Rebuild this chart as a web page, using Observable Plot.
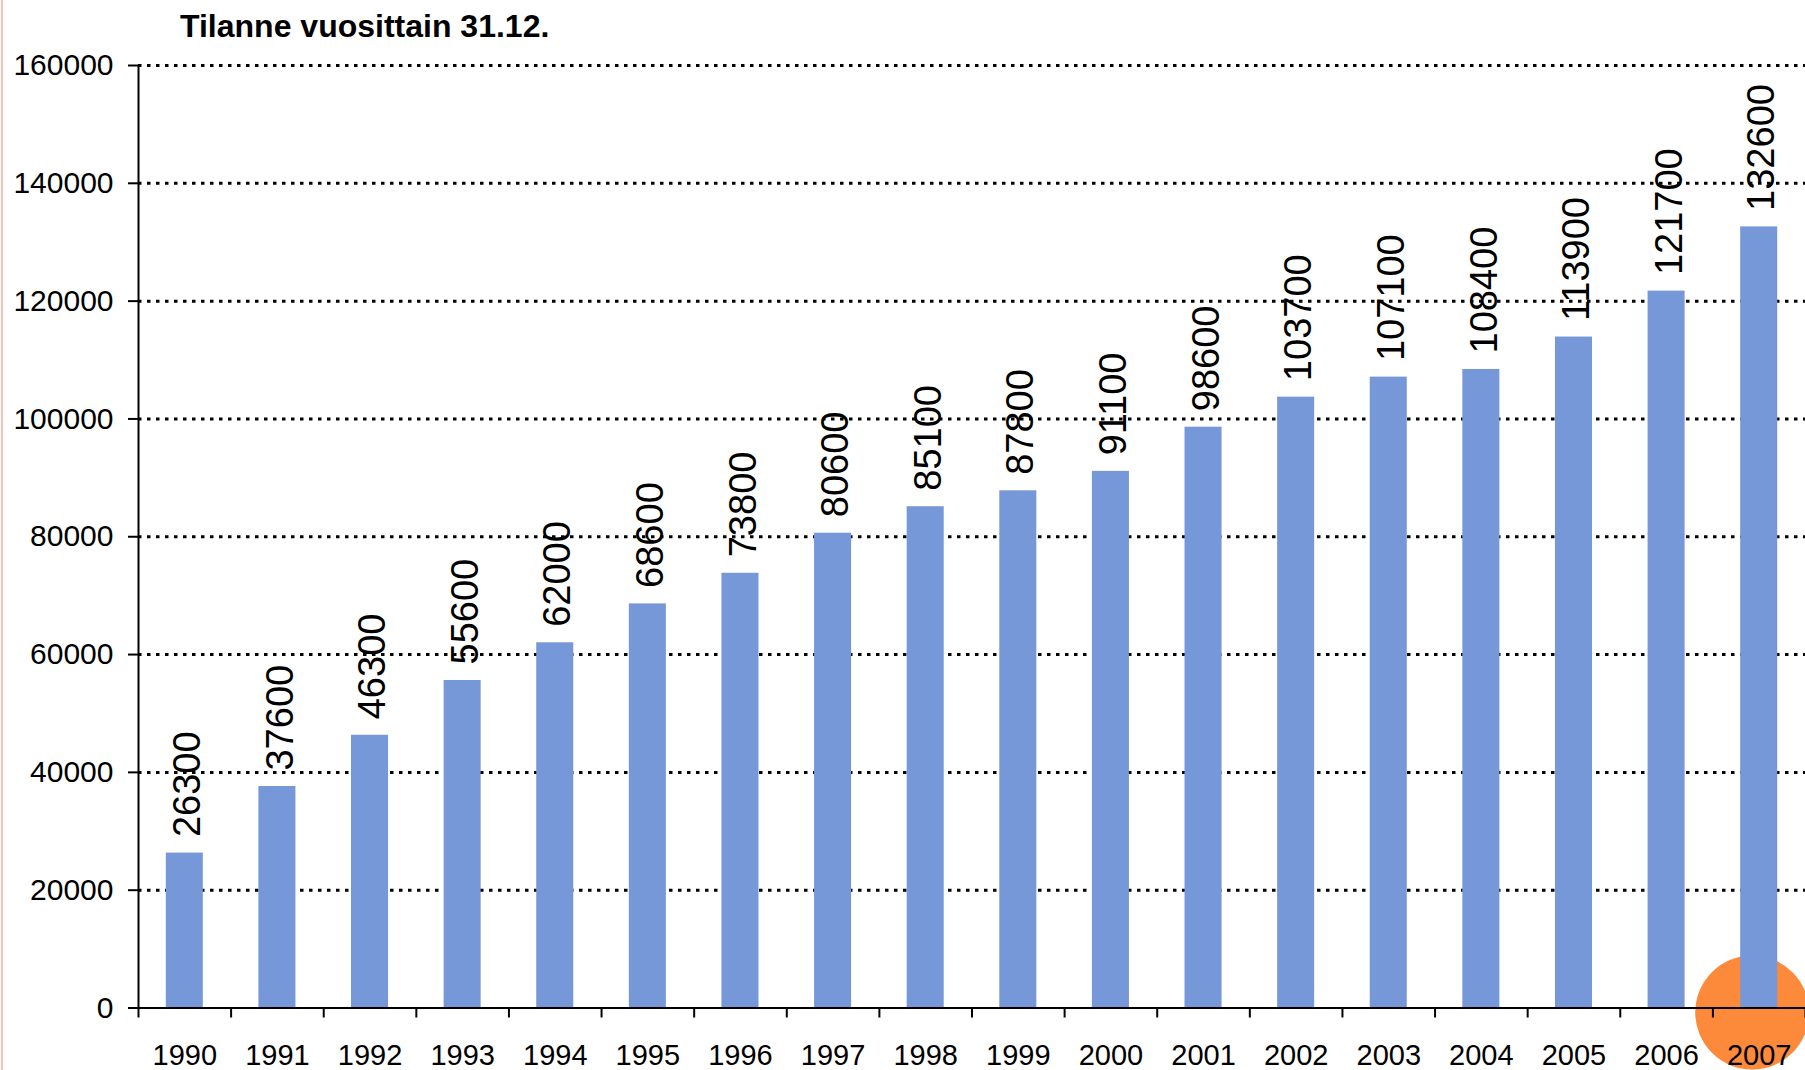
<!DOCTYPE html>
<html><head><meta charset="utf-8">
<script src="https://cdn.jsdelivr.net/npm/d3@7"></script>
<script src="https://cdn.jsdelivr.net/npm/@observablehq/plot@0.6"></script>
<style>
html,body{margin:0;padding:0;background:#fff;overflow:hidden;width:1805px;height:1070px;}
#edge{position:absolute;left:1px;top:0;width:2px;height:1070px;background:#f6c3b3;}
#title{height:45px;box-sizing:border-box;padding:10px 0 0 180px;font:bold 32px "Liberation Sans",Arial,sans-serif;line-height:1;color:#000;white-space:nowrap;}
#chart svg{display:block;}
</style></head><body>
<div id="edge"></div>
<div id="title">Tilanne vuosittain 31.12.</div>
<div id="chart"></div>
<script>
const years = [1990, 1991, 1992, 1993, 1994, 1995, 1996, 1997, 1998, 1999, 2000, 2001, 2002, 2003, 2004, 2005, 2006, 2007];
const values = [26300, 37600, 46300, 55600, 62000, 68600, 73800, 80600, 85100, 87800, 91100, 98600, 103700, 107100, 108400, 113900, 121700, 132600];
const yTicks = [0, 20000, 40000, 60000, 80000, 100000, 120000, 140000, 160000];
const highlightYears = [2007];

const data = years.map((year, i) => ({year, value: values[i]}));
const boundaries = years.map(y => y - 0.5).concat([years[years.length - 1] + 0.5]);
const barHalf = 0.2;

const plot = Plot.plot({
  width: 1805, height: 1025,
  marginTop: 20, marginBottom: 62.5, marginLeft: 138, marginRight: 0,
  style: {fontFamily: '"Liberation Sans", Arial, sans-serif', color: "#000", background: "#fff", overflow: "visible"},
  x: {type: "linear", domain: [years[0] - 0.5, years[years.length - 1] + 0.5]},
  y: {domain: [yTicks[0], yTicks[yTicks.length - 1]]},
  marks: [
    Plot.gridY(yTicks.filter(v => v > 0), {stroke: "#000", strokeOpacity: 1, strokeWidth: 3, strokeDasharray: "3.5,5.5"}),
    Plot.dot(highlightYears.map(year => ({year, value: 0})), {x: "year", y: "value", r: 57, fill: "#fd8a3a", stroke: "none", dx: -7, dy: 4.5}),
    Plot.rectY(data, {x1: d => d.year - barHalf, x2: d => d.year + barHalf, y1: 0, y2: "value", fill: "#7698d8"}),
    Plot.ruleY([0], {stroke: "#000", strokeWidth: 2}),
    Plot.ruleX([boundaries[0]], {y1: yTicks[0], y2: yTicks[yTicks.length - 1], stroke: "#000", strokeWidth: 2}),
    Plot.axisY({ticks: yTicks, tickSize: 10, tickPadding: 15, fontSize: 30, tickFormat: d => String(d), strokeWidth: 2, label: null}),
    Plot.axisX({ticks: boundaries, tickSize: 10, tickFormat: () => "", strokeWidth: 2, label: null}),
    Plot.axisX({ticks: years, tickSize: 0, tickPadding: 36, fontSize: 29, tickFormat: d => String(d), label: null}),
    Plot.text(data, {x: "year", y: "value", text: d => String(d.value), rotate: -90, textAnchor: "start", fontSize: 38, dy: -16, dx: 3})
  ]
});
document.getElementById("chart").appendChild(plot);
</script>
</body></html>
